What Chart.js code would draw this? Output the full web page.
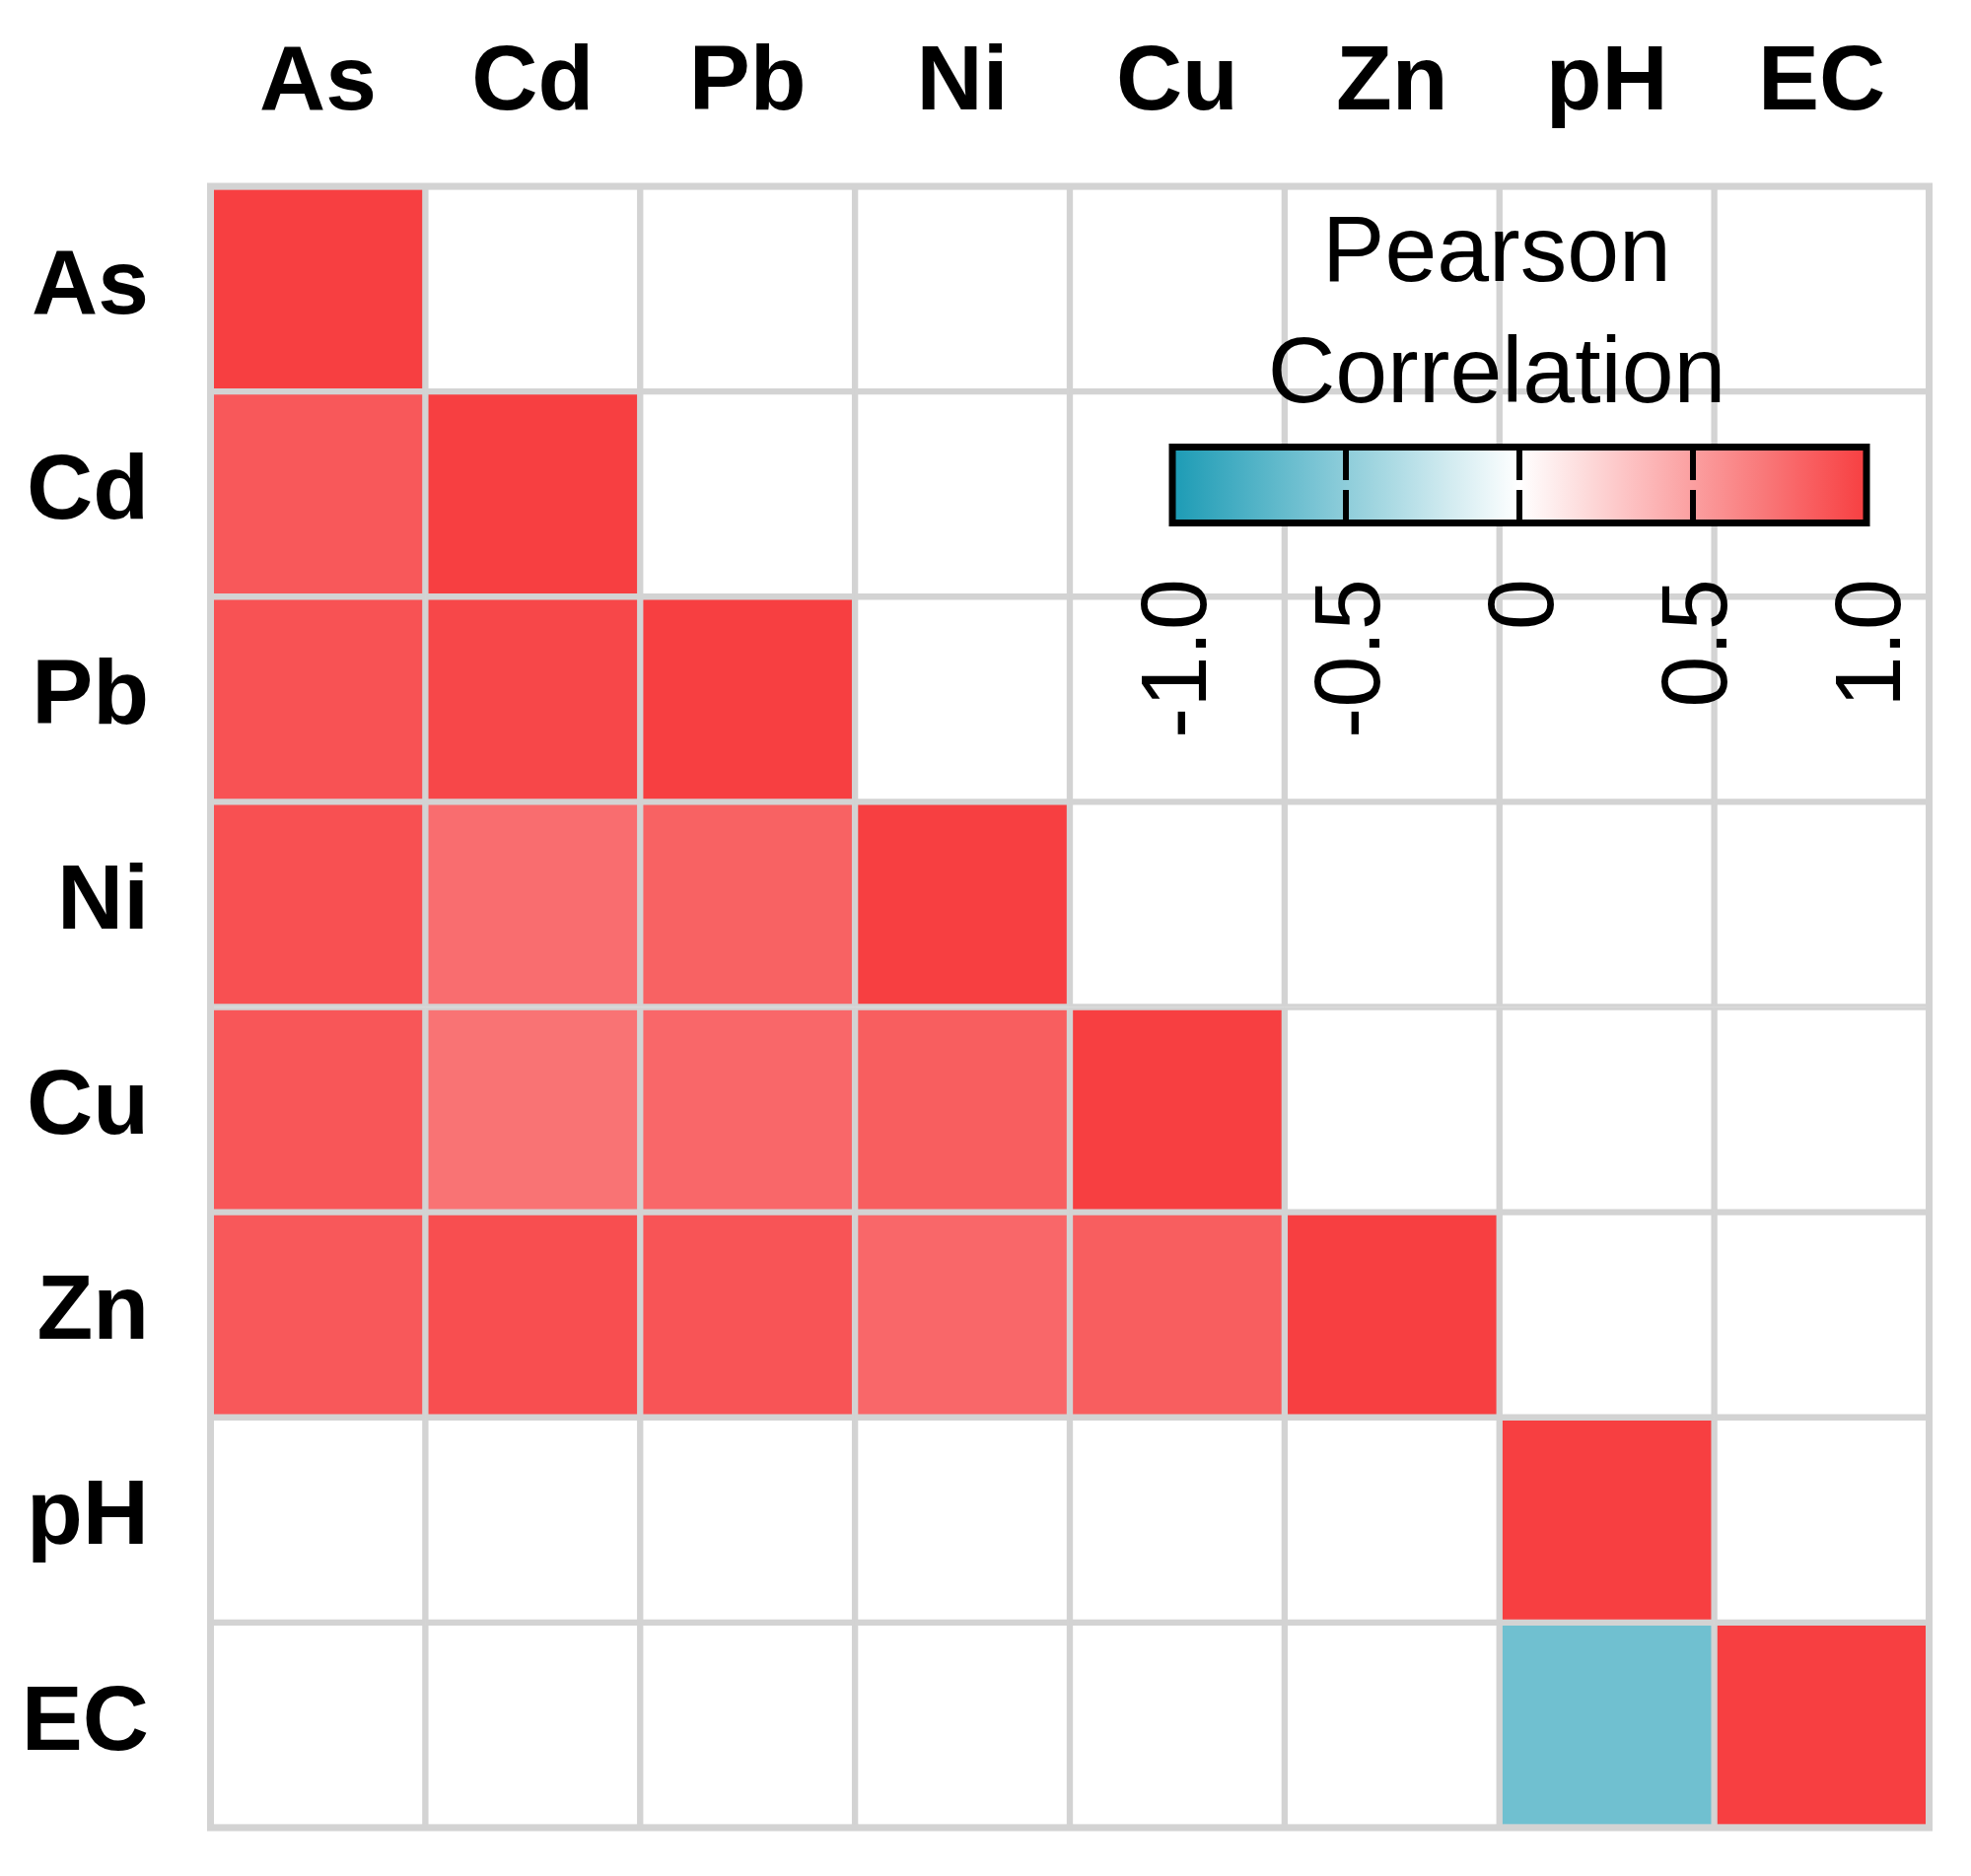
<!DOCTYPE html>
<html>
<head>
<meta charset="utf-8">
<script src="https://cdn.jsdelivr.net/npm/chart.js@4/dist/chart.umd.min.js"></script>
<style>
  html, body { margin: 0; padding: 0; background: #fff; }
  canvas { display: block; }
</style>
</head>
<body>
<canvas id="myChart" width="1999" height="1903" style="width:1999px;height:1903px"></canvas>
<script>
// variables, in column order and row order (top to bottom)
const variables = ['As', 'Cd', 'Pb', 'Ni', 'Cu', 'Zn', 'pH', 'EC'];

// Pearson r per row, one value per column; null = blank (white) cell
const corrAs = [1.00, null, null, null, null, null, null, null];
const corrCd = [0.87, 1.00, null, null, null, null, null, null];
const corrPb = [0.90, 0.96, 1.00, null, null, null, null, null];
const corrNi = [0.91, 0.76, 0.82, 1.00, null, null, null, null];
const corrCu = [0.88, 0.73, 0.79, 0.84, 1.00, null, null, null];
const corrZn = [0.87, 0.92, 0.89, 0.79, 0.84, 1.00, null, null];
const corrPH = [null, null, null, null, null, null, 1.00, null];
const corrEC = [null, null, null, null, null, null, -0.63, 1.00];
const corrRows = [corrAs, corrCd, corrPb, corrNi, corrCu, corrZn, corrPH, corrEC];

// colour bar
const legendTitle = ['Pearson', 'Correlation'];
const legendTicks = [-1, -0.5, 0, 0.5, 1];
const legendTickLabels = ['-1.0', '-0.5', '0', '0.5', '1.0'];

const lowColor = [28, 155, 181];
const midColor = [255, 255, 255];
const highColor = [247, 63, 65];
const gridGray = '#D3D3D3';
const fontFamily = '"Liberation Sans", Arial, sans-serif';

function corrColor(v) {
  if (v === null || v === undefined) return '#FFFFFF';
  const end = v < 0 ? lowColor : highColor;
  const t = Math.min(1, Math.abs(v));
  const c = midColor.map((m, i) => Math.round(m + (end[i] - m) * t));
  return `rgb(${c[0]},${c[1]},${c[2]})`;
}

const datasets = corrRows.map((row, r) => ({
  label: variables[r],
  data: row.map(() => [r, r + 1]),
  backgroundColor: row.map(corrColor),
  borderColor: gridGray,
  borderWidth: 3.5,
  borderSkipped: false,
  grouped: false,
  barPercentage: 1,
  categoryPercentage: 1
}));

// outer frame + colour bar legend
const colorbarPlugin = {
  id: 'colorbar',
  afterDatasetsDraw(chart) {
    const ctx = chart.ctx;
    const area = chart.chartArea;
    ctx.save();
    ctx.strokeStyle = gridGray;
    ctx.lineWidth = 7;
    ctx.strokeRect(area.left, area.top, area.right - area.left, area.bottom - area.top);

    const x0 = 1189, x1 = 1893, yTop = 453.5, yBot = 530.5;
    const yMid = (yTop + yBot) / 2;
    const lo = legendTicks[0], hi = legendTicks[legendTicks.length - 1];
    const px = v => x0 + (v - lo) / (hi - lo) * (x1 - x0);

    const grad = ctx.createLinearGradient(x0, 0, x1, 0);
    for (let i = 0; i <= 20; i++) {
      const v = lo + (hi - lo) * i / 20;
      grad.addColorStop(i / 20, corrColor(v));
    }
    ctx.fillStyle = grad;
    ctx.fillRect(x0, yTop, x1 - x0, yBot - yTop);

    ctx.strokeStyle = '#000';
    ctx.lineWidth = 6;
    legendTicks.slice(1, -1).forEach(v => {
      ctx.beginPath();
      ctx.moveTo(px(v), yTop);
      ctx.lineTo(px(v), yMid - 5);
      ctx.moveTo(px(v), yMid + 5);
      ctx.lineTo(px(v), yBot);
      ctx.stroke();
    });
    ctx.lineWidth = 7;
    ctx.strokeRect(x0, yTop, x1 - x0, yBot - yTop);

    ctx.fillStyle = '#000';
    ctx.font = '95px ' + fontFamily;
    ctx.textAlign = 'center';
    ctx.textBaseline = 'alphabetic';
    ctx.fillText(legendTitle[0], 1518, 285);
    ctx.fillText(legendTitle[1], 1518, 408);

    ctx.font = '94px ' + fontFamily;
    ctx.textAlign = 'right';
    ctx.textBaseline = 'middle';
    legendTicks.forEach((v, i) => {
      ctx.save();
      ctx.translate(px(v) + 8, 587);
      ctx.rotate(-Math.PI / 2);
      ctx.fillText(legendTickLabels[i], 0, 0);
      ctx.restore();
    });
    ctx.restore();
  }
};

const ctx = document.getElementById('myChart').getContext('2d');
new Chart(ctx, {
  type: 'bar',
  data: { labels: variables, datasets: datasets },
  options: {
    responsive: false,
    devicePixelRatio: 1,
    animation: false,
    layout: { padding: { top: 0, left: 0, right: 42.5, bottom: 49 } },
    plugins: { legend: { display: false }, tooltip: { enabled: false } },
    scales: {
      x: {
        type: 'category',
        position: 'top',
        offset: true,
        grid: { display: false, drawTicks: false, tickLength: 0 },
        border: { display: false },
        ticks: {
          color: '#000',
          padding: 48,
          maxRotation: 0,
          autoSkip: false,
          font: { family: fontFamily, size: 93, weight: 'bold' }
        },
        afterFit: scale => {
          scale.height = 189;
          scale.paddingLeft = 0;
          scale.paddingRight = 0;
        }
      },
      y: {
        type: 'linear',
        min: 0,
        max: variables.length,
        reverse: true,
        grid: { display: false, drawTicks: false, tickLength: 0 },
        border: { display: false },
        afterBuildTicks: scale => {
          scale.ticks = variables.map((_, i) => ({ value: i + 0.5 }));
        },
        ticks: {
          color: '#000',
          padding: 62.5,
          labelOffset: -1,
          autoSkip: false,
          font: { family: fontFamily, size: 93, weight: 'bold' },
          callback: value => variables[Math.floor(value)]
        },
        afterFit: scale => {
          scale.width = 213.5;
          scale.paddingTop = 0;
          scale.paddingBottom = 0;
        }
      }
    }
  },
  plugins: [colorbarPlugin]
});
</script>
</body>
</html>
